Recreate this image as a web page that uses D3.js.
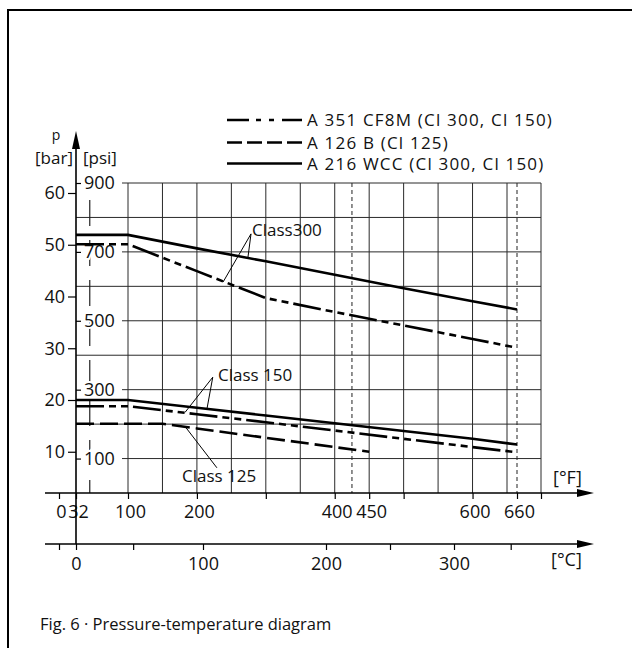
<!DOCTYPE html>
<html><head><meta charset="utf-8">
<script src="https://cdn.jsdelivr.net/npm/d3@7"></script>
<style>
body{margin:0;background:#fff}
svg{display:block}
text{font-family:"Open Sans",sans-serif;fill:#111}
</style>
</head><body>
<svg id="c" width="632" height="648"></svg>
<script>
// ---- data ----
const tempF   = [32, 100, 200, 300, 400, 500, 600, 660];
const wcc300  = [51.9, 51.9, 49.3, 46.8, 44.2, 41.6, 39.1, 37.5];
const cf8m300 = [50.1, 50.1, 44.9, 39.7, 37.0, 34.4, 31.8, 30.1];
const wcc150  = [20.0, 20.0, 18.5, 17.0, 15.5, 14.0, 12.5, 11.4];
const cf8m150 = [18.8, 18.8, 17.25, 15.7, 14.1, 12.5, 10.9, 9.9];
const tempF126 = [32, 100, 150, 200, 300, 400, 450];
const a126b    = [15.4, 15.4, 15.4, 14.5, 12.7, 10.9, 10.0];

const barTicks = [10, 20, 30, 40, 50, 60];
const psiGrid = [100, 200, 300, 400, 500, 600, 700, 800, 900];
const psiLabels = [100, 300, 500, 700, 900];
const fGrid = [100, 150, 200, 250, 300, 350, 400, 450, 500, 550, 600, 650, 700];
const fTicks = [0, 32, 100, 200, 300, 400, 450, 500, 600, 660, 700];
const fLabels = [0, 32, 100, 200, 400, 450, 600, 660];
const fMarks = [425, 660];      // dashed verticals
const fMark50 = 50;             // long-dash vertical
const cTicks = [-17.8, 0, 45, 100, 200, 250, 300, 345];
const cLabels = [0, 100, 200, 300];

const legendItems = [
  {label: "A 351 CF8M (Cl 300, Cl 150)", type: "dashdot"},
  {label: "A 126 B (Cl 125)", type: "dash"},
  {label: "A 216 WCC (Cl 300, Cl 150)", type: "solid"}
];
const annotations = [
  {text: "Class300", at: [280, 51.7], from: [278.5, 52.1], to: [[238, 42.8], [274, 47.5]]},
  {text: "Class 150", at: [230.6, 23.7], from: [223, 24.4], to: [[182.7, 17.6], [214.6, 18.3]]},
  {text: "Class 125", at: [178.4, 4.2], from: [229, 6.9], to: [[182.7, 14.9]]}
];

const dashes = {solid: null, dash: "18,6", dashdot: "28,5,7,5,7,5"};

// ---- scales ----
const x = d3.scaleLinear().domain([0, 32, 100, 650, 660, 700]).range([59, 76, 128, 507, 517, 541]);
const xC = d3.scaleLinear().domain([-17.8, 0, 100, 200, 300, 350]).range([59, 76, 203, 326, 454, 517]);
const yPsi = d3.scaleLinear().domain([0, 900]).range([493, 183]);
const yBar = d3.scaleLinear().domain([0, 60]).range([503.5, 193]);

const svg = d3.select("#c");
svg.append("rect").attr("width", 632).attr("height", 648).attr("fill", "#fff");

// frame
svg.append("path").attr("d", "M8,648V10H632").attr("fill", "none").attr("stroke", "#000").attr("stroke-width", 2);

const gridCol = "#2a2a2a";
// vertical grid
svg.append("g").selectAll("line").data(fGrid).join("line")
  .attr("x1", d => x(d)).attr("x2", d => x(d))
  .attr("y1", yPsi(900)).attr("y2", yPsi(0))
  .attr("stroke", gridCol).attr("stroke-width", 1);
// horizontal grid
svg.append("g").selectAll("line").data(psiGrid).join("line")
  .attr("x1", d => psiLabels.includes(d) ? 122 : x(32)).attr("x2", x(700))
  .attr("y1", d => yPsi(d)).attr("y2", d => yPsi(d))
  .attr("stroke", gridCol).attr("stroke-width", 1);
// dashed marker verticals
svg.append("g").selectAll("line").data(fMarks).join("line")
  .attr("x1", d => x(d)).attr("x2", d => x(d))
  .attr("y1", yPsi(900)).attr("y2", yPsi(0))
  .attr("stroke", "#222").attr("stroke-width", 1).attr("stroke-dasharray", "4,3");
svg.append("line")
  .attr("x1", x(fMark50)).attr("x2", x(fMark50))
  .attr("y1", 200).attr("y2", yPsi(0))
  .attr("stroke", "#222").attr("stroke-width", 1.2).attr("stroke-dasharray", "26,14");

// ---- axes ----
// bar axis (left)
const gBar = svg.append("g").attr("transform", `translate(${x(32)},0)`)
  .call(d3.axisLeft(yBar).tickValues(barTicks).tickSize(8).tickPadding(3));
gBar.select(".domain").remove();
gBar.selectAll("line").attr("stroke", "#000").attr("stroke-width", 1.2);
gBar.selectAll("text").attr("font-size", 18).attr("font-family", "Open Sans").attr("fill", "#111");

// psi axis (right side labels)
const gPsi = svg.append("g").attr("transform", `translate(${x(32)},0)`)
  .call(d3.axisRight(yPsi).tickValues(psiLabels).tickSize(5).tickPadding(3));
gPsi.select(".domain").remove();
gPsi.selectAll("line").attr("stroke", "#000").attr("stroke-width", 1.2);
gPsi.selectAll("text").attr("font-size", 18).attr("font-family", "Open Sans").attr("fill", "#111")
  .attr("stroke", "#fff").attr("stroke-width", 4).attr("paint-order", "stroke");

// F axis
const gF = svg.append("g").attr("transform", `translate(0,${yPsi(0)})`)
  .call(d3.axisBottom(x).tickValues(fTicks).tickSize(6).tickPadding(6)
    .tickFormat(d => fLabels.includes(d) ? d : ""));
gF.select(".domain").remove();
gF.selectAll("line").attr("stroke", "#000").attr("stroke-width", 1.2);
gF.selectAll("text").attr("font-size", 18).attr("font-family", "Open Sans").attr("fill", "#111").attr("dx", 2);

// C axis
const yCaxis = 544;
const gC = svg.append("g").attr("transform", `translate(0,${yCaxis})`)
  .call(d3.axisBottom(xC).tickValues(cTicks).tickSize(6).tickPadding(7)
    .tickFormat(d => cLabels.includes(d) ? d : ""));
gC.select(".domain").remove();
gC.selectAll("line").attr("stroke", "#000").attr("stroke-width", 1.2);
gC.selectAll("text").attr("font-size", 18).attr("font-family", "Open Sans").attr("fill", "#111");

// axis lines + arrows
const ax = svg.append("g").attr("stroke", "#000").attr("stroke-width", 1.6);
ax.append("line").attr("x1", 45).attr("x2", 580).attr("y1", yPsi(0)).attr("y2", yPsi(0));
ax.append("line").attr("x1", 45).attr("x2", 580).attr("y1", yCaxis).attr("y2", yCaxis);
ax.append("line").attr("x1", x(32)).attr("x2", x(32)).attr("y1", 146).attr("y2", yCaxis);
svg.append("path").attr("d", `M577,${yPsi(0)-4}L594,${yPsi(0)}L577,${yPsi(0)+4}Z`).attr("fill", "#000");
svg.append("path").attr("d", `M577,${yCaxis-4}L594,${yCaxis}L577,${yCaxis+4}Z`).attr("fill", "#000");
svg.append("path").attr("d", `M${x(32)-4},149L${x(32)},131L${x(32)+4},149Z`).attr("fill", "#000");

// axis titles
svg.append("text").attr("x", 56).attr("y", 140).attr("text-anchor", "middle").attr("font-size", 14).text("p");
svg.append("text").attr("x", 54).attr("y", 164).attr("text-anchor", "middle").attr("font-size", 17).text("[bar]");
svg.append("text").attr("x", 83).attr("y", 164).attr("font-size", 17).text("[psi]");
svg.append("text").attr("x", 553).attr("y", 484).attr("font-size", 18).text("[°F]");
svg.append("text").attr("x", 551).attr("y", 566).attr("font-size", 18).text("[°C]");

// ---- curves ----
const line = d3.line().x(d => x(d[0])).y(d => yBar(d[1]));
const series = [
  {t: tempF, v: wcc300, type: "solid"},
  {t: tempF, v: wcc150, type: "solid"},
  {t: tempF, v: cf8m300, type: "dashdot"},
  {t: tempF, v: cf8m150, type: "dashdot"},
  {t: tempF126, v: a126b, type: "dash"}
];
svg.append("g").selectAll("path").data(series).join("path")
  .attr("d", s => line(s.t.map((t, i) => [t, s.v[i]])))
  .attr("fill", "none").attr("stroke", "#000").attr("stroke-width", 2.6)
  .attr("stroke-dasharray", s => dashes[s.type]);

// ---- annotations ----
const ga = svg.append("g");
annotations.forEach(a => {
  a.to.forEach(p => {
    ga.append("line")
      .attr("x1", x(a.from[0])).attr("y1", yBar(a.from[1]))
      .attr("x2", x(p[0])).attr("y2", yBar(p[1]))
      .attr("stroke", "#000").attr("stroke-width", 1);
  });
  ga.append("text").attr("x", x(a.at[0])).attr("y", yBar(a.at[1]))
    .attr("font-size", 17).text(a.text);
});

// ---- legend ----
const lg = svg.append("g");
const legendDash = {solid: null, dash: "15,5", dashdot: "22,7,5,8,5,8"};
legendItems.forEach((d, i) => {
  const yy = [120, 142.5, 163.5][i];
  lg.append("line").attr("x1", 227).attr("x2", 302).attr("y1", yy).attr("y2", yy)
    .attr("stroke", "#000").attr("stroke-width", 2.6).attr("stroke-dasharray", legendDash[d.type]);
  lg.append("text").attr("x", 307).attr("y", yy + 6).attr("font-size", 17)
    .attr("letter-spacing", 1.2).text(d.label);
});

// caption
svg.append("text").attr("x", 40).attr("y", 630).attr("font-size", 16.5)
  .text("Fig. 6 · Pressure-temperature diagram");
</script>
</body></html>
